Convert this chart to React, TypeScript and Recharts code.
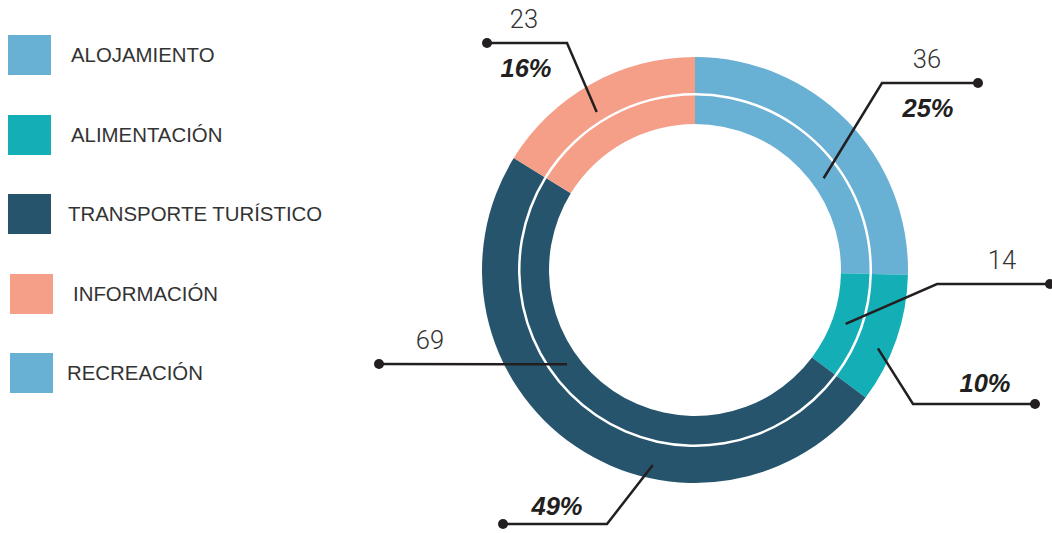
import { PieChart, Pie, Cell, Legend } from 'recharts'

const CATEGORIES = ['ALOJAMIENTO', 'ALIMENTACIÓN', 'TRANSPORTE TURÍSTICO', 'INFORMACIÓN']
const VALUES = [36, 14, 69, 23]
const COLORS = ['#68B0D4', '#14AFB6', '#25546C', '#F59F88']

const LEGEND_LABELS = ['ALOJAMIENTO', 'ALIMENTACIÓN', 'TRANSPORTE TURÍSTICO', 'INFORMACIÓN', 'RECREACIÓN']
const LEGEND_COLORS = ['#68B0D4', '#14AFB6', '#25546C', '#F59F88', '#68B0D4']

const total = VALUES.reduce((a, b) => a + b, 0)
const data = CATEGORIES.map((name, i) => ({ name, value: VALUES[i] }))

// leader lines, offsets relative to the pie centre
type Leader = { a: number; r: number; elbow?: [number, number]; end: [number, number] }
const LEADERS: { lines: Leader[]; val: [number, number]; pct: [number, number] }[] = [
  { lines: [{ a: 35.5, r: 158, elbow: [187, -187], end: [283, -187] }], val: [232, -202], pct: [233, -153] },
  {
    lines: [
      { a: -19.7, r: 160, elbow: [242, 14], end: [355, 14] },
      { a: -23.2, r: 199, elbow: [218, 134], end: [340, 134] },
    ],
    val: [307, -1],
    pct: [290, 122],
  },
  {
    lines: [
      { a: 216.4, r: 159, end: [-316, 94] },
      { a: -102.2, r: 199.5, elbow: [-88, 254], end: [-192, 254] },
    ],
    val: [-265, 79],
    pct: [-138, 245],
  },
  { lines: [{ a: 121.9, r: 186, elbow: [-128, -227], end: [-208, -227] }], val: [-171, -242], pct: [-169, -193] },
]

const INK = '#231F20'

function renderLabel(props: any) {
  const { cx, cy, index } = props
  const cfg = LEADERS[index]
  if (!cfg) return null
  const pct = Math.round((VALUES[index] / total) * 100)
  return (
    <g>
      {cfg.lines.map((l, j) => {
        const rad = (l.a * Math.PI) / 180
        const sx = cx + l.r * Math.cos(rad)
        const sy = cy - l.r * Math.sin(rad)
        const pts = [[sx, sy]]
        if (l.elbow) pts.push([cx + l.elbow[0], cy + l.elbow[1]])
        pts.push([cx + l.end[0], cy + l.end[1]])
        return (
          <g key={j}>
            <polyline points={pts.map((p) => p.join(',')).join(' ')} fill="none" stroke={INK} strokeWidth={2.5} />
            <circle cx={cx + l.end[0]} cy={cy + l.end[1]} r={5} fill={INK} />
          </g>
        )
      })}
      <text
        x={cx + cfg.val[0]}
        y={cy + cfg.val[1]}
        textAnchor="middle"
        fill="#333"
        style={{ fontFamily: 'Roboto, "Liberation Sans", sans-serif', fontWeight: 300, fontSize: 25.5 }}
      >
        {VALUES[index]}
      </text>
      <text
        x={cx + cfg.pct[0]}
        y={cy + cfg.pct[1]}
        textAnchor="middle"
        fill={INK}
        style={{ fontFamily: '"Liberation Sans", Arial, sans-serif', fontWeight: 700, fontStyle: 'italic', fontSize: 25.5 }}
      >
        {pct}%
      </text>
    </g>
  )
}

function LegendBox() {
  return (
    <div style={{ position: 'relative', width: 340, height: 420 }}>
      {LEGEND_LABELS.map((label, i) => {
        const top = 35 + i * 79.5
        const sqLeft = i >= 3 ? 10 : 8
        const txtLeft = [71, 71, 68, 73, 67][i]
        return (
          <div key={label}>
            <div style={{ position: 'absolute', left: sqLeft, top, width: 43, height: 40, background: LEGEND_COLORS[i] }} />
            <div
              style={{
                position: 'absolute',
                left: txtLeft,
                top: top + 8,
                fontFamily: '"Liberation Sans", Arial, sans-serif',
                fontSize: 20.4,
                color: '#333',
                whiteSpace: 'nowrap',
                lineHeight: '24px',
              }}
            >
              {label}
            </div>
          </div>
        )
      })}
    </div>
  )
}

export default function App() {
  return (
    <div style={{ position: 'absolute', left: 0, top: 0, width: 1052, height: 533, background: '#fff' }}>
      <PieChart width={1052} height={533} margin={{ top: 0, right: 0, bottom: 0, left: 0 }}>
        <Legend
          content={() => <LegendBox />}
          wrapperStyle={{ position: 'absolute', left: 0, top: 0, width: 340, height: 420 }}
        />
        {/* inner band */}
        <Pie
          data={data}
          dataKey="value"
          nameKey="name"
          cx={695}
          cy={270}
          innerRadius={146}
          outerRadius={174.5}
          startAngle={90}
          endAngle={-270}
          stroke="none"
          isAnimationActive={false}
          label={false}
          labelLine={false}
          legendType="none"
        >
          {data.map((d, i) => (
            <Cell key={d.name} fill={COLORS[i]} />
          ))}
        </Pie>
        {/* outer band, carries the leader labels so they sit on top */}
        <Pie
          data={data}
          dataKey="value"
          nameKey="name"
          cx={695}
          cy={270}
          innerRadius={177}
          outerRadius={213}
          startAngle={90}
          endAngle={-270}
          stroke="none"
          isAnimationActive={false}
          label={renderLabel}
          labelLine={false}
          legendType="none"
        >
          {data.map((d, i) => (
            <Cell key={d.name} fill={COLORS[i]} />
          ))}
        </Pie>
      </PieChart>
    </div>
  )
}
